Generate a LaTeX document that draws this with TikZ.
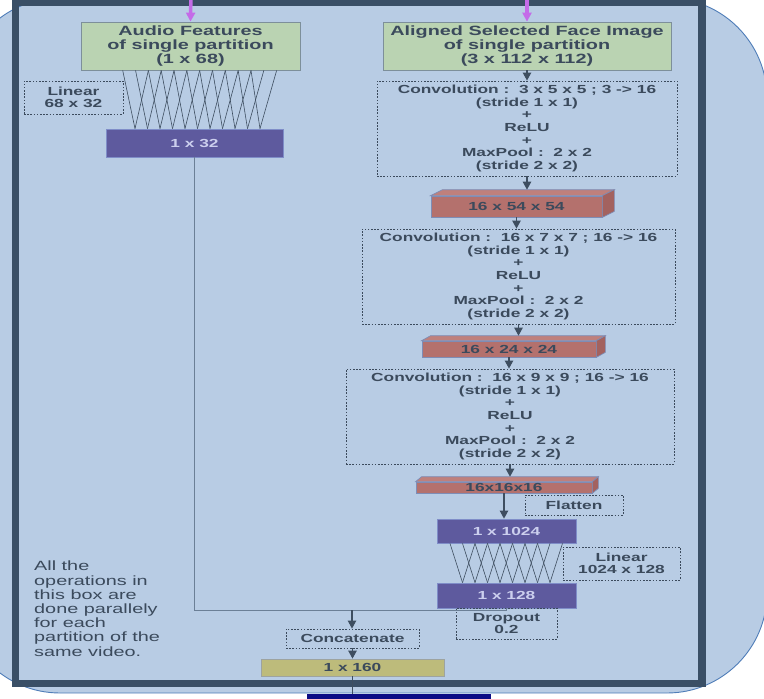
\documentclass[tikz,border=0pt]{standalone}
\usepackage{fontspec}
\setmainfont{Liberation Sans}[FakeStretch=1.48]
\usetikzlibrary{arrows.meta,calc}

\definecolor{bgblue}{HTML}{B8CCE4}
\definecolor{bgline}{HTML}{4F7DB8}
\definecolor{framec}{HTML}{3A4F66}
\definecolor{sage}{HTML}{BAD3B2}
\definecolor{sageline}{HTML}{7D8F9A}
\definecolor{ink}{HTML}{3B4A5C}
\definecolor{dense}{HTML}{5E5A9E}
\definecolor{denseline}{HTML}{7F8DC8}
\definecolor{densetext}{HTML}{CCCFEE}
\definecolor{brick}{HTML}{B4716D}
\definecolor{bricktop}{HTML}{BF807C}
\definecolor{brickside}{HTML}{A3625F}
\definecolor{brickline}{HTML}{7E8DB6}
\definecolor{olive}{HTML}{BDBB7B}
\definecolor{oliveline}{HTML}{9DA3A0}
\definecolor{wire}{HTML}{3E4E60}
\definecolor{feed}{HTML}{6B7F96}
\definecolor{violet}{HTML}{C46BE8}
\definecolor{navybar}{HTML}{0B0B85}

\newcommand{\smallbold}{\bfseries\fontsize{11.7}{12.6}\selectfont}
\newcommand{\bigbold}{\bfseries\fontsize{13.4}{14.2}\selectfont}

\tikzset{
  titlebox/.style={draw=sageline, fill=sage, line width=0.8pt, text=ink,
    font=\bigbold, align=center, inner sep=0pt},
  opbox/.style={draw=ink, dash pattern=on 1.6pt off 1.6pt, line width=0.9pt,
    text=ink, font=\smallbold, align=center, inner sep=0pt},
  densebox/.style={draw=denseline, fill=dense, line width=0.8pt,
    text=densetext, font=\smallbold, inner sep=0pt},
  cubefront/.style={draw=brickline, fill=brick, line width=0.7pt,
    text=ink, font=\smallbold, inner sep=0pt},
  cubetop/.style={draw=brickline, fill=bricktop, line width=0.7pt},
  cubeside/.style={draw=brickline, fill=brickside, line width=0.7pt},
  concatbox/.style={draw=oliveline, fill=olive, line width=0.8pt,
    text=ink, font=\smallbold, inner sep=0pt},
  flow/.style={draw=wire, line width=1.1pt, -{Triangle[width=8.5pt,length=8pt]}},
  feedline/.style={draw=feed, line width=1pt},
  weights/.style={draw=wire, line width=0.6pt},
  inflow/.style={draw=violet, line width=3.5pt, -{Triangle[width=9pt,length=9pt]}},
}

\begin{document}
\begin{tikzpicture}[x=1pt, y=-1pt]
\useasboundingbox (0,0) rectangle (764,699);
\begin{scope}
\clip (0,0) rectangle (764,699);

% outer rounded panel and the partition frame
\draw[fill=bgblue, draw=bgline, line width=0.9pt, rounded corners=100pt]
  (-40,-2) rectangle (767,693);
\draw[draw=framec, line width=7.5pt] (15.5,2.5) rectangle (702,683.5);

% inputs
\node[titlebox, minimum width=219pt, minimum height=48pt] (audio) at (190.5,46)
  {Audio Features\\of single partition\\(1 x 68)};
\node[titlebox, minimum width=288pt, minimum height=48pt] (face) at (527,46)
  {Aligned Selected Face Image\\of single partition\\(3 x 112 x 112)};
\coordinate (inA) at (191,-10);
\coordinate (inB) at (527,-10);
\draw[inflow] (inA) -- (audio.north);
\draw[inflow] (inB) -- (face.north);

% audio branch
\node[opbox, minimum width=99pt, minimum height=33pt] (lin1) at (73.5,97.5)
  {Linear\\68 x 32};
\node[densebox, minimum width=177pt, minimum height=28pt] (d32) at (194.5,143) {1 x 32};
\foreach \k in {0,...,12}{
  \pgfmathsetmacro\xt{122.7+12.83*\k}
  \pgfmathsetmacro\xl{135+12.5*(\k-2)}
  \pgfmathsetmacro\xr{135+12.5*\k}
  \ifnum\k>1 \draw[weights] (\xt,0 |- audio.south) -- (\xl,0 |- d32.north); \fi
  \ifnum\k<11 \draw[weights] (\xt,0 |- audio.south) -- (\xr,0 |- d32.north); \fi
}

% face branch
\node[opbox, minimum width=300pt, minimum height=95pt] (conv1) at (527,128.5)
  {Convolution :\ \ 3 x 5 x 5 ; 3 -> 16\\(stride 1 x 1)\\+\\ReLU\\+\\MaxPool :\ \ 2 x 2\\(stride 2 x 2)};
\node[cubefront, minimum width=171pt, minimum height=21pt] (c1) at (516.5,206.5) {16 x 54 x 54};
\draw[cubetop] (c1.north west) -- ++(12,-6) -- ([shift={(12pt,6pt)}]c1.north east) -- (c1.north east) -- cycle;
\draw[cubeside] (c1.north east) -- ++(12,-6) -- ([shift={(12pt,6pt)}]c1.south east) -- (c1.south east) -- cycle;
\coordinate (c1top) at ([yshift=6pt]c1.north);

\node[opbox, minimum width=313pt, minimum height=95pt] (conv2) at (518.5,276.5)
  {Convolution :\ \ 16 x 7 x 7 ; 16 -> 16\\(stride 1 x 1)\\+\\ReLU\\+\\MaxPool :\ \ 2 x 2\\(stride 2 x 2)};
\node[cubefront, minimum width=174pt, minimum height=16pt] (c2) at (509,349) {16 x 24 x 24};
\draw[cubetop] (c2.north west) -- ++(9,-5) -- ([shift={(9pt,5pt)}]c2.north east) -- (c2.north east) -- cycle;
\draw[cubeside] (c2.north east) -- ++(9,-5) -- ([shift={(9pt,5pt)}]c2.south east) -- (c2.south east) -- cycle;
\coordinate (c2top) at ([yshift=5pt]c2.north);

\node[opbox, minimum width=328pt, minimum height=95pt] (conv3) at (510,416.5)
  {Convolution :\ \ 16 x 9 x 9 ; 16 -> 16\\(stride 1 x 1)\\+\\ReLU\\+\\MaxPool :\ \ 2 x 2\\(stride 2 x 2)};
\node[cubefront, minimum width=176pt, minimum height=11pt] (c3) at (504,487.5) {16x16x16};
\draw[cubetop] (c3.north west) -- ++(6,-5) -- ([shift={(6pt,5pt)}]c3.north east) -- (c3.north east) -- cycle;
\draw[cubeside] (c3.north east) -- ++(6,-5) -- ([shift={(6pt,5pt)}]c3.south east) -- (c3.south east) -- cycle;
\coordinate (c3top) at ([yshift=5pt]c3.north);

\node[opbox, minimum width=98pt, minimum height=20pt] (flat) at (574,505) {Flatten};
\node[densebox, minimum width=139pt, minimum height=24pt] (d1024) at (506.5,531) {1 x 1024};
\node[densebox, minimum width=139pt, minimum height=25pt] (d128) at (506.5,595.5) {1 x 128};
\foreach \k in {0,...,9}{
  \pgfmathsetmacro\xt{450+12.5*\k}
  \pgfmathsetmacro\xl{450+12.5*(\k-1)}
  \pgfmathsetmacro\xr{450+12.5*(\k+1)}
  \ifnum\k>1 \draw[weights] (\xt,0 |- d1024.south) -- (\xl,0 |- d128.north); \fi
  \ifnum\k<8 \draw[weights] (\xt,0 |- d1024.south) -- (\xr,0 |- d128.north); \fi
}
\node[opbox, minimum width=117pt, minimum height=33pt] (lin2) at (621.5,563.5)
  {Linear\\1024 x 128};
\node[opbox, minimum width=101pt, minimum height=31pt] (drop) at (506.5,623.5)
  {Dropout\\0.2};

% arrows of the face branch
\draw[flow] (face.south) -- (conv1.north);
\draw[flow] (conv1.south) -- (conv1.south |- c1top);
\draw[flow] (c1.south) -- (c1.south |- conv2.north);
\draw[flow] (conv2.south) -- (conv2.south |- c2top);
\draw[flow] (c2.south) -- (c2.south |- conv3.north);
\draw[flow] (conv3.south) -- (conv3.south |- c3top);
\draw[flow] (c3.south) -- (c3.south |- d1024.north);

% merge of both branches
\coordinate (merge) at (352,610);
\node[opbox, minimum width=133pt, minimum height=19pt] (concat) at (352.5,638.5) {Concatenate};
\node[concatbox, minimum width=183pt, minimum height=17pt] (d160) at (352.5,667.5) {1 x 160};
\draw[feedline] (d32.south) |- (merge);
\draw[feedline] (d128.south) |- (merge);
\draw[flow] (merge) -- (merge |- concat.north);
\draw[flow] (concat.south) -- (concat.south |- d160.north);

\node[fill=navybar, minimum width=184pt, minimum height=14pt, inner sep=0pt, anchor=north]
  (nextstage) at (399,694) {};
\draw[feedline, draw=wire] (d160.south) -- (d160.south |- nextstage.north);

% note
\node[anchor=north west, align=left, text=ink, inner sep=0pt,
  font=\fontsize{13.4}{14.2}\selectfont] (note) at (34,561)
  {All the\\operations in\\this box are\\done parallely\\for each\\partition of the\\same video.};
\end{scope}
\end{tikzpicture}
\end{document}
